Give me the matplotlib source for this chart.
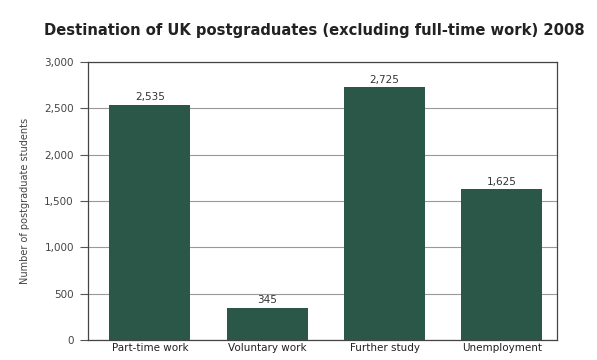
import matplotlib.pyplot as plt
import numpy as np

categories = ["Part-time work", "Voluntary work", "Further study", "Unemployment"]
values = [2535, 345, 2725, 1625]
value_labels = ["2,535", "345", "2,725", "1,625"]
yticks = [0, 500, 1000, 1500, 2000, 2500, 3000]
ytick_labels = ["0", "500", "1,000", "1,500", "2,000", "2,500", "3,000"]

fig = plt.figure(figsize=(5.97, 3.6), dpi=100)
ax = fig.add_axes([0.147, 0.056, 0.786, 0.772])

x = np.arange(len(categories))
ax.bar(x + 0.03, values, width=0.69, color="#2b5749", zorder=3)
for xi, v, lab in zip(x, values, value_labels):
    ax.text(xi + 0.03, v + 30, lab, ha="center", va="bottom", fontsize=7.5, color="#333333")

ax.set_xlim(-0.5, 3.5)
ax.set_ylim(0, 3000)
ax.set_yticks(yticks)
ax.set_yticklabels(ytick_labels, fontsize=7.5, color="#444444")
ax.set_xticks(x + 0.03)
ax.set_xticklabels(categories, fontsize=7.5, color="#222222")
ax.tick_params(axis="x", length=0, pad=2)
ax.tick_params(axis="y", length=6, width=0.8, color="#555555", pad=4)
ax.yaxis.grid(True, color="#999999", linewidth=0.8, zorder=0)
for s in ax.spines.values():
    s.set_color("#444444")
    s.set_linewidth(0.9)

ax.set_ylabel("Number of postgraduate students", fontsize=7, color="#444444", labelpad=10)
fig.text(0.526, 0.915, "Destination of UK postgraduates (excluding full-time work) 2008",
         ha="center", va="center", fontsize=10.6, fontweight="bold", color="#222222")

fig.savefig("out.png", dpi=100)
